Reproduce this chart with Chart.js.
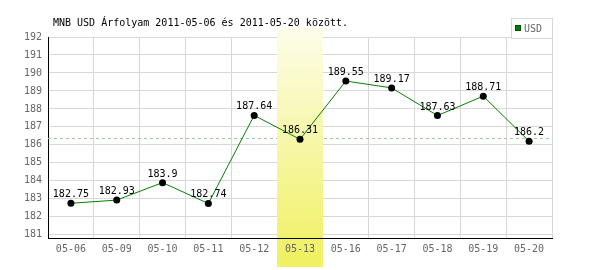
<!DOCTYPE html>
<html>
<head>
<meta charset="utf-8">
<script src="https://cdn.jsdelivr.net/npm/chart.js@4/dist/chart.umd.min.js"></script>
<style>
    html, body { margin: 0; padding: 0; background: #fff; }
    #doboz { width: 600px; height: 270px; }
</style>
</head>
<body>
<div id="doboz"><canvas id="grafikon"></canvas></div>
<script>
// adatok
const datumok = ['05-06', '05-09', '05-10', '05-11', '05-12', '05-13', '05-16', '05-17', '05-18', '05-19', '05-20'];
const arfolyam = [182.75, 182.93, 183.9, 182.74, 187.64, 186.31, 189.55, 189.17, 187.63, 188.71, 186.2];
const yTickek = [181, 182, 183, 184, 185, 186, 187, 188, 189, 190, 191, 192];
const atlagVonal = 186.36;
const kiemeltNap = '05-13';
const cim = 'MNB USD Árfolyam 2011-05-06 és 2011-05-20 között.';
const sorozatNev = 'USD';

const betu = '"DejaVu Sans Mono", monospace';

// hatter: szaggatott vonal + kiemelt oszlop
const hatterPlugin = {
    id: 'hatter',
    beforeDatasetsDraw(chart) {
        const ctx = chart.ctx;
        const area = chart.chartArea;
        const x = chart.scales.x;
        const y = chart.scales.y;

        let yv = Math.round(y.getPixelForValue(atlagVonal)) + 0.5;
        ctx.save();
        ctx.strokeStyle = '#99cc99';
        ctx.lineWidth = 1;
        ctx.setLineDash([3, 3]);
        ctx.beginPath();
        ctx.moveTo(area.left, yv);
        ctx.lineTo(area.right, yv);
        ctx.stroke();
        ctx.restore();

        let i = datumok.indexOf(kiemeltNap);
        let w = (area.right - area.left) / datumok.length;
        let xk = x.getPixelForValue(i);
        let grad = ctx.createLinearGradient(0, 28, 0, 267);
        grad.addColorStop(0, '#fdfdea');
        grad.addColorStop(1, '#f0f060');
        ctx.save();
        ctx.fillStyle = grad;
        ctx.fillRect(Math.round(xk - w / 2), 28, Math.round(w), 239);
        ctx.restore();
    },
    afterDatasetsDraw(chart) {
        const ctx = chart.ctx;
        const meta = chart.getDatasetMeta(0);
        ctx.save();
        ctx.font = '10px ' + betu;
        ctx.fillStyle = '#000';
        ctx.textAlign = 'center';
        ctx.textBaseline = 'alphabetic';
        for (let i = 0; i < meta.data.length; i++) {
            let p = meta.data[i];
            ctx.fillText(String(arfolyam[i]), p.x, p.y - 6);
        }
        ctx.restore();
    },
    afterDraw(chart) {
        const ctx = chart.ctx;
        ctx.save();
        // cim
        ctx.font = '10px ' + betu;
        ctx.fillStyle = '#000';
        ctx.textAlign = 'left';
        ctx.textBaseline = 'middle';
        ctx.fillText(cim, 53, 23);
        // jelmagyarazat
        ctx.fillStyle = '#fff';
        ctx.fillRect(511, 18, 41, 20);
        ctx.strokeStyle = '#d8d8d8';
        ctx.lineWidth = 1;
        ctx.strokeRect(511.5, 18.5, 41, 20);
        ctx.fillStyle = '#008000';
        ctx.fillRect(515, 25, 6, 6);
        ctx.strokeStyle = '#005000';
        ctx.strokeRect(515.5, 25.5, 5, 5);
        ctx.fillStyle = '#666';
        ctx.fillText(sorozatNev, 524, 29);
        ctx.restore();
    }
};

const grafikon = new Chart(document.getElementById('grafikon'), {
    type: 'line',
    data: {
        labels: datumok,
        datasets: [{
            label: sorozatNev,
            data: arfolyam,
            borderColor: '#008000',
            borderWidth: 1,
            tension: 0,
            pointRadius: 3.5,
            pointBackgroundColor: '#000',
            pointBorderColor: '#000',
            pointBorderWidth: 0,
            clip: false
        }]
    },
    options: {
        responsive: true,
        maintainAspectRatio: false,
        animation: false,
        layout: { padding: { top: 37, right: 48, left: 0, bottom: 0 } },
        plugins: {
            legend: { display: false },
            tooltip: { enabled: false },
            title: { display: false }
        },
        scales: {
            x: {
                type: 'category',
                offset: true,
                grid: { offset: true, color: '#d8d8d8', drawTicks: false },
                border: { color: '#000', width: 1, z: 1 },
                ticks: { z: 1, color: '#666', font: { family: betu, size: 10 }, padding: 5, maxRotation: 0, autoSkip: false },
                afterFit(scale) { scale.height = 32; }
            },
            y: {
                min: 180.82,
                max: 192,
                grid: { color: '#d8d8d8', drawTicks: false },
                border: { color: '#000', width: 1 },
                ticks: { color: '#666', font: { family: betu, size: 10 }, padding: 6 },
                afterBuildTicks(scale) { scale.ticks = yTickek.map(v => ({ value: v })); },
                afterFit(scale) { scale.width = 48; }
            }
        }
    },
    plugins: [hatterPlugin]
});
</script>
</body>
</html>
